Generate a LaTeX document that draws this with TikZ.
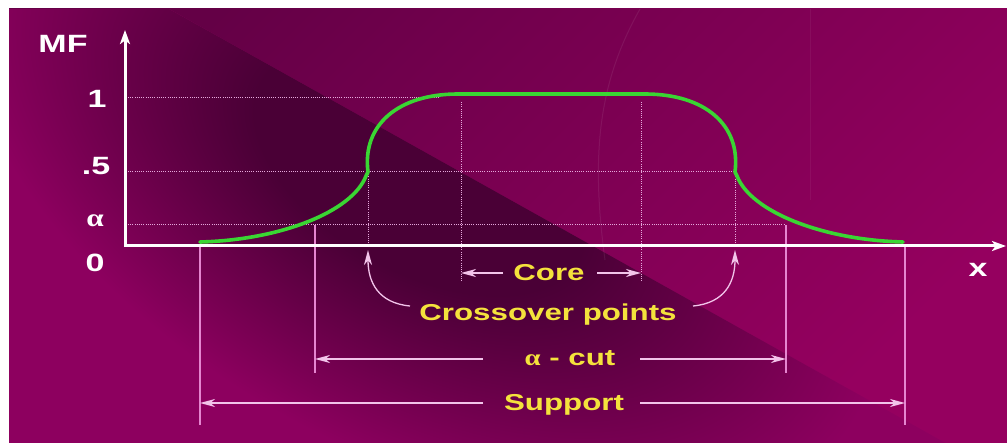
\documentclass[tikz,border=0pt]{standalone}
\usepackage{fontspec}
\setmainfont{Liberation Sans}
\newfontfamily\labfont[FakeStretch=1.36]{Liberation Sans}
\newfontfamily\grkfont[FakeStretch=1.25]{Liberation Serif}
\usetikzlibrary{arrows.meta}
\definecolor{bgTL}{HTML}{640046}
\definecolor{bgBR}{HTML}{95005F}
\definecolor{bandD}{HTML}{4A0036}
\definecolor{bandL}{HTML}{8D005F}
\definecolor{labyellow}{HTML}{F4E23C}
\definecolor{curvegreen}{HTML}{3AD633}
\definecolor{dimpink}{HTML}{F2C4EA}
\definecolor{vpink}{HTML}{E585D0}
\definecolor{dotpink}{HTML}{E6A8DC}
\pgfdeclareradialshading{darkband}{\pgfpoint{0bp}{0bp}}{color(0bp)=(bandD); color(9bp)=(bandD); color(25bp)=(bandL); color(50bp)=(bandL)}
\begin{document}
\begin{tikzpicture}[x=1pt,y=-1pt,
  lab/.style={text=labyellow, font=\labfont\bfseries\fontsize{23}{23}\selectfont, inner sep=0pt, anchor=base},
  axl/.style={text=white, font=\labfont\bfseries\fontsize{25}{25}\selectfont, inner sep=0pt, anchor=base},
  axisline/.style={white, line width=3pt, {Stealth[length=14pt,width=10pt,inset=3.5pt]}-{Stealth[length=14pt,width=10pt,inset=3.5pt]}},
  dimline/.style={dimpink, line width=1.3pt, -{Stealth[length=15pt,width=8pt,inset=4.5pt]}},
  vline/.style={vpink, line width=1.3pt},
  dotline/.style={dotpink, line width=1pt, dash pattern=on 1pt off 1.2pt},
  mfcurve/.style={curvegreen, line width=3.6pt, line cap=round, line join=round}]
\useasboundingbox (0,0) rectangle (1007,443);
\fill[white] (0,0) rectangle (1007,443);
% background
\shade[top color=bgTL, bottom color=bgBR, shading angle=45] (9,9) rectangle (1007,443);
\begin{scope}
  \clip (9,9) -- (169,9) -- (945,443) -- (9,443) -- cycle;
  \fill[bandL] (9,9) rectangle (1007,443);
  \begin{pgfscope}
    \pgftransformshift{\pgfpoint{420pt}{-170pt}}
    \pgftransformrotate{-29.2}
    \pgftransformxscale{20}
    \pgftransformyscale{11.2}
    \pgflowlevelsynccm
    \pgfuseshading{darkband}
  \end{pgfscope}
\end{scope}
% faint template arcs
\draw[white, opacity=0.07, line width=1pt] (640,9) .. controls (600,80) and (590,150) .. (605,260);
\draw[white, opacity=0.05, line width=1pt] (810,9) -- (810,200);

% coordinates
\coordinate (O) at (125,246);
\coordinate (ytip) at (125,30);
\coordinate (xtip) at (1006,246);
\coordinate (y1a) at (128,98);   \coordinate (y1b) at (440,98);
\coordinate (y5a) at (128,172);  \coordinate (y5b) at (735,172);
\coordinate (yaa) at (128,225);  \coordinate (yab) at (785,225);
\coordinate (cxL) at (368,172);  \coordinate (cxLb) at (368,246);
\coordinate (cxR) at (735,172);  \coordinate (cxRb) at (735,246);
\coordinate (coL) at (461,102);  \coordinate (coLb) at (461,281);
\coordinate (coR) at (641,102);  \coordinate (coRb) at (641,281);
\coordinate (acL) at (315,225);  \coordinate (acLb) at (315,373);
\coordinate (acR) at (786,225);  \coordinate (acRb) at (786,373);
\coordinate (suL) at (200,246);  \coordinate (suLb) at (200,425);
\coordinate (suR) at (905,246);  \coordinate (suRb) at (905,425);

% dotted guides
\draw[dotline] (y1a) -- (y1b);
\draw[dotline] (y5a) -- (y5b);
\draw[dotline] (yaa) -- (yab);
\draw[dotline] (cxL) -- (cxLb);
\draw[dotline] (cxR) -- (cxRb);
\draw[dotline] (coL) -- (coLb);
\draw[dotline] (coR) -- (coRb);
% solid guides
\draw[vline] (acL) -- (acLb);
\draw[vline] (acR) -- (acRb);
\draw[vline] (suL) -- (suLb);
\draw[vline] (suR) -- (suRb);

% axes
\draw[axisline] (ytip) -- (O) -- (xtip);

% membership curve
\draw[mfcurve] (200,242) .. controls (280,240) and (352,212) .. (366,176)
  .. controls (367,174) .. (368,172)
  .. controls (362,125) and (398,94) .. (458,94) -- (645,94)
  .. controls (705,94) and (741,125) .. (735,172)
  .. controls (736,174) .. (737,176)
  .. controls (751,212) and (823,240) .. (903,242);

% axis labels
\node[axl] (mf) at (63,53) {MF};
\node[axl] (one) at (97,108) {1};
\node[axl] (half) at (96,175) {.5};
\node[axl] (alab) at (95,227) {{\grkfont\bfseries α}};
\node[axl] (zero) at (95,272) {0};
\node[axl] (xlab) at (978,277) {x};

% annotation labels
\node[lab] (core) at (549,281) {Core};
\node[lab] (cross) at (548,321) {Crossover points};
\node[lab] (acut) at (570,366) {{\grkfont\bfseries α} - cut};
\node[lab] (supp) at (564,411) {Support};

\coordinate (coreA) at (503,273);  \coordinate (coreB) at (597,273);
\coordinate (coreTL) at (461,273); \coordinate (coreTR) at (641,273);
\coordinate (acA) at (483,359);    \coordinate (acB) at (640,359);
\coordinate (acTL) at (315,359);   \coordinate (acTR) at (786,359);
\coordinate (suA) at (483,403);    \coordinate (suB) at (640,403);
\coordinate (suTL) at (200,403);   \coordinate (suTR) at (905,403);
\coordinate (crA) at (410,306);    \coordinate (crB) at (693,306);
\coordinate (crTL) at (368,250);   \coordinate (crTR) at (735,250);

\draw[dimline] (coreA) -- (coreTL);
\draw[dimline] (coreB) -- (coreTR);
\draw[dimline] (acA) -- (acTL);
\draw[dimline] (acB) -- (acTR);
\draw[dimline] (suA) -- (suTL);
\draw[dimline] (suB) -- (suTR);
\draw[dimline] (crA) .. controls (378,303) and (368,282) .. (crTL);
\draw[dimline] (crB) .. controls (725,303) and (735,282) .. (crTR);
\end{tikzpicture}
\end{document}
